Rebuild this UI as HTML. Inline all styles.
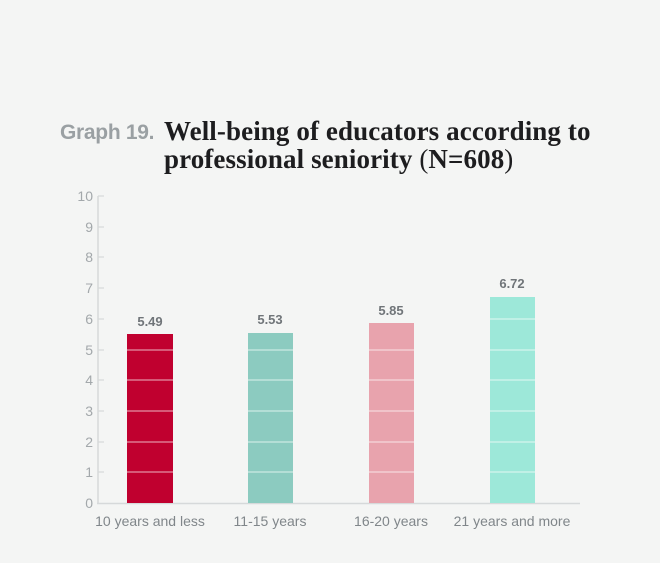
<!DOCTYPE html>
<html><head><style>
body{margin:0;background:#f4f5f4;width:660px;height:563px;overflow:hidden;position:relative;font-family:"Liberation Sans",sans-serif}
.g{position:absolute;left:60px;top:121px;font-size:21px;font-weight:bold;color:#9aa0a3;letter-spacing:-0.3px}
.h{position:absolute;left:164px;top:117px;font-family:"Liberation Serif",serif;font-weight:bold;font-size:27px;line-height:28px;color:#1d1d1f;letter-spacing:0.1px}
</style></head><body>
<div class="g">Graph 19.</div>
<div class="h">Well-being of educators according to<br>professional seniority <span style="font-weight:normal">(</span>N=608<span style="font-weight:normal">)</span></div>
<svg width="660" height="563" style="position:absolute;left:0;top:0">
<g stroke="#d6d9da" stroke-width="1.5">
<line x1="98" y1="196" x2="98" y2="503"/>
<line x1="97" y1="503.5" x2="580" y2="503.5"/>
</g>
<g font-size="14" fill="#a3a8ab" text-anchor="end" font-family="Liberation Sans">
<text x="93" y="201">10</text><text x="93" y="232">9</text><text x="93" y="262">8</text><text x="93" y="293">7</text><text x="93" y="324">6</text><text x="93" y="355">5</text><text x="93" y="385">4</text><text x="93" y="416">3</text><text x="93" y="447">2</text><text x="93" y="477">1</text><text x="93" y="508">0</text>
</g>
<g stroke="#d6d9da" stroke-width="1.2">
<line x1="98" y1="196" x2="104" y2="196"/><line x1="98" y1="227" x2="104" y2="227"/><line x1="98" y1="257" x2="104" y2="257"/><line x1="98" y1="288" x2="104" y2="288"/><line x1="98" y1="319" x2="104" y2="319"/><line x1="98" y1="350" x2="104" y2="350"/><line x1="98" y1="380" x2="104" y2="380"/><line x1="98" y1="411" x2="104" y2="411"/><line x1="98" y1="442" x2="104" y2="442"/><line x1="98" y1="472" x2="104" y2="472"/>
</g>
<rect x="127" y="334" width="46" height="169" fill="#c0002f"/>
<rect x="248" y="333" width="45" height="170" fill="#8ccbc0"/>
<rect x="369" y="323" width="45" height="180" fill="#e8a3ad"/>
<rect x="490" y="297" width="45" height="206" fill="#9de8d9"/>
<g stroke="#ffffff" stroke-opacity="0.7" stroke-width="1">
<line x1="127" y1="350" x2="580" y2="350"/><line x1="127" y1="380" x2="580" y2="380"/><line x1="127" y1="411" x2="580" y2="411"/><line x1="127" y1="442" x2="580" y2="442"/><line x1="127" y1="472" x2="580" y2="472"/><line x1="490" y1="319" x2="535" y2="319"/>
</g>
<rect x="173" y="340" width="75" height="162" fill="#f4f5f4"/>
<rect x="293" y="340" width="76" height="162" fill="#f4f5f4"/>
<rect x="414" y="340" width="76" height="162" fill="#f4f5f4"/>
<rect x="535" y="300" width="46" height="202" fill="#f4f5f4"/>
<g font-size="13" font-weight="bold" fill="#707579" text-anchor="middle">
<text x="150" y="326">5.49</text><text x="270" y="324">5.53</text><text x="391" y="315">5.85</text><text x="512" y="288">6.72</text>
</g>
<g font-size="14" fill="#80868a" text-anchor="middle">
<text x="150" y="526">10 years and less</text><text x="270" y="526">11-15 years</text><text x="391" y="526">16-20 years</text><text x="512" y="526">21 years and more</text>
</g>
</svg>
</body></html>
